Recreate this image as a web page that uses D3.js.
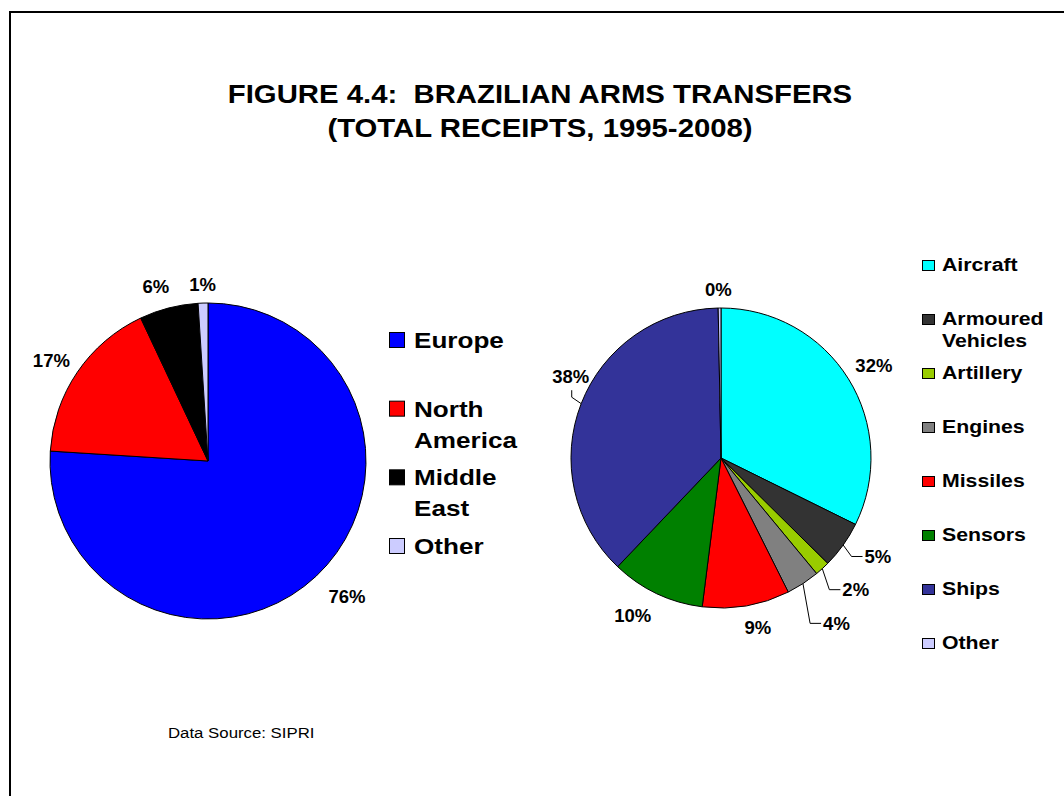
<!DOCTYPE html>
<html>
<head>
<meta charset="utf-8">
<script src="https://cdn.jsdelivr.net/npm/d3@7"></script>
<style>
  body { margin: 0; background: #fff; }
  svg { display: block; font-family: "Liberation Sans", Arial, sans-serif; }
  text { white-space: pre; }
</style>
</head>
<body>
<script>
(function (d3) {
  'use strict';

  // ---- data ----
  const titleLines = ['FIGURE 4.4:  BRAZILIAN ARMS TRANSFERS', '(TOTAL RECEIPTS, 1995-2008)'];
  const sourceText = 'Data Source: SIPRI';

  const regionNames = ['Europe', 'North America', 'Middle East', 'Other'];
  const regionLegendLines = [['Europe'], ['North', 'America'], ['Middle', 'East'], ['Other']];
  const regionValues = [76, 17, 6, 1];
  const regionColors = ['#0000ff', '#ff0000', '#000000', '#ccccff'];

  const weaponNames = ['Aircraft', 'Armoured Vehicles', 'Artillery', 'Engines', 'Missiles', 'Sensors', 'Ships', 'Other'];
  const weaponLegendLines = [['Aircraft'], ['Armoured', 'Vehicles'], ['Artillery'], ['Engines'], ['Missiles'], ['Sensors'], ['Ships'], ['Other']];
  const weaponValues = [32.3, 5.1, 1.6, 3.6, 9.4, 10.1, 37.6, 0.3];
  const weaponColors = ['#00ffff', '#333333', '#99cc00', '#808080', '#ff0000', '#008000', '#333399', '#ccccff'];

  // small moves of the percentage labels; some get a leader line
  const regionLabelNudge = {
    Europe: { dx: 12, dy: 0 },
    'North America': { dx: -2, dy: 5 },
    'Middle East': { dx: -8, dy: -2 },
    Other: { dx: 0, dy: -2 },
  };
  const weaponLabelNudge = {
    Aircraft: { dx: -1, dy: 3 },
    'Armoured Vehicles': { dx: 13, dy: -4, leader: 'left' },
    Artillery: { dx: 16, dy: 2, leader: 'left' },
    Engines: { dx: 20, dy: 19, leader: 'left' },
    Missiles: { dx: 8, dy: 1 },
    Sensors: { dx: -13, dy: -1 },
    Ships: { dx: 19, dy: -16, leader: 'bottom' },
    Other: { dx: -1, dy: 0 },
  };

  const width = 1064;
  const height = 796;

  const svg = d3.select('body')
    .append('svg')
    .attr('width', width)
    .attr('height', height);

  // frame (runs off the right and bottom edge)
  svg.append('rect')
    .attr('x', 10)
    .attr('y', 12)
    .attr('width', width + 20)
    .attr('height', height + 20)
    .attr('fill', 'none')
    .attr('stroke', '#000')
    .attr('stroke-width', 2);

  // the original text is set a bit wide, so stretch it horizontally
  const wideText = (parent, x, y, str, size, weight, anchor, stretch) =>
    parent.append('text')
      .attr('transform', `translate(${x},${y}) scale(${stretch},1)`)
      .attr('font-size', size)
      .attr('font-weight', weight)
      .attr('text-anchor', anchor)
      .attr('fill', '#000')
      .text(str);

  // title
  titleLines.forEach((line, i) => {
    wideText(svg, 540, 103 + i * 34, line, 26, 'bold', 'middle', 1.128);
  });

  wideText(svg, 168, 738, sourceText, 15, 'normal', 'start', 1.12);

  const pieChart = () => {
    let cx;
    let cy;
    let radius;
    let names;
    let values;
    let colors;
    let gap = 10;
    let nudges = {};

    const my = (selection) => {
      const total = d3.sum(values);
      const fmt = d3.format('.0%');
      const color = d3.scaleOrdinal().domain(names).range(colors);

      const arcs = d3.pie()
        .sort(null)
        .value((d) => d.value)(names.map((n, i) => ({ name: n, value: values[i] })));

      const arc = d3.arc().innerRadius(0).outerRadius(radius);

      const g = selection.append('g')
        .attr('transform', `translate(${cx},${cy})`);

      g.selectAll('path')
        .data(arcs)
        .join('path')
        .attr('d', arc)
        .attr('fill', (d) => color(d.data.name))
        .attr('stroke', '#000')
        .attr('stroke-width', 1)
        .attr('stroke-linejoin', 'round');

      arcs.forEach((d) => {
        const a = (d.startAngle + d.endAngle) / 2;
        const s = Math.sin(a);
        const c = -Math.cos(a);
        const label = g.append('text')
          .attr('font-size', 18.5)
          .attr('font-weight', 'bold')
          .attr('text-anchor', 'middle')
          .attr('fill', '#000')
          .text(fmt(d.value / total));
        const halfW = label.node().getComputedTextLength() / 2;
        const halfH = 6.5;
        const rr = radius + gap + halfW * Math.abs(s) + halfH * Math.abs(c);
        let lx = rr * s;
        let ly = rr * c;
        const nudge = nudges[d.data.name];
        if (nudge) {
          lx += nudge.dx;
          ly += nudge.dy;
          if (nudge.leader) {
            const ex = radius * s;
            const ey = radius * c;
            const pts = nudge.leader === 'left'
              ? [[ex, ey], [lx - halfW - 13, ly], [lx - halfW - 2, ly]]
              : [[ex, ey], [lx + 1, ly + 21], [lx + 1, ly + 14]];
            g.append('path')
              .attr('d', d3.line()(pts))
              .attr('fill', 'none')
              .attr('stroke', '#000')
              .attr('stroke-width', 1);
          }
        }
        label.attr('x', lx).attr('y', ly + halfH);
      });

      return selection;
    };

    my.cx = function (_) { return arguments.length ? ((cx = +_), my) : cx; };
    my.cy = function (_) { return arguments.length ? ((cy = +_), my) : cy; };
    my.radius = function (_) { return arguments.length ? ((radius = +_), my) : radius; };
    my.names = function (_) { return arguments.length ? ((names = _), my) : names; };
    my.values = function (_) { return arguments.length ? ((values = _), my) : values; };
    my.colors = function (_) { return arguments.length ? ((colors = _), my) : colors; };
    my.gap = function (_) { return arguments.length ? ((gap = +_), my) : gap; };
    my.nudges = function (_) { return arguments.length ? ((nudges = _), my) : nudges; };

    return my;
  };

  const legend = () => {
    let x;
    let top;
    let bottom;
    let lines;
    let colors;
    let boxW;
    let boxH;
    let fontSize;
    let stretch;
    let lineStep;
    let textGap;

    const my = (selection) => {
      const y = d3.scaleLinear()
        .domain([0, lines.length - 1])
        .range([top, bottom]);

      const g = selection.append('g');

      lines.forEach((ls, i) => {
        g.append('rect')
          .attr('x', x + 0.5)
          .attr('y', y(i) + 0.5)
          .attr('width', boxW)
          .attr('height', boxH)
          .attr('fill', colors[i])
          .attr('stroke', '#000')
          .attr('stroke-width', 1);
        ls.forEach((t, j) => {
          wideText(g, x + boxW + textGap, y(i) + boxH + 1 + j * lineStep, t, fontSize, 'bold', 'start', stretch);
        });
      });
    };

    my.x = function (_) { return arguments.length ? ((x = +_), my) : x; };
    my.top = function (_) { return arguments.length ? ((top = +_), my) : top; };
    my.bottom = function (_) { return arguments.length ? ((bottom = +_), my) : bottom; };
    my.lines = function (_) { return arguments.length ? ((lines = _), my) : lines; };
    my.colors = function (_) { return arguments.length ? ((colors = _), my) : colors; };
    my.boxW = function (_) { return arguments.length ? ((boxW = +_), my) : boxW; };
    my.boxH = function (_) { return arguments.length ? ((boxH = +_), my) : boxH; };
    my.fontSize = function (_) { return arguments.length ? ((fontSize = +_), my) : fontSize; };
    my.stretch = function (_) { return arguments.length ? ((stretch = +_), my) : stretch; };
    my.lineStep = function (_) { return arguments.length ? ((lineStep = +_), my) : lineStep; };
    my.textGap = function (_) { return arguments.length ? ((textGap = +_), my) : textGap; };

    return my;
  };

  // left pie: receipts by supplier region
  svg.call(
    pieChart()
      .cx(208)
      .cy(461)
      .radius(158)
      .names(regionNames)
      .values(regionValues)
      .colors(regionColors)
      .gap(10)
      .nudges(regionLabelNudge)
  );

  svg.call(
    legend()
      .x(389)
      .top(332)
      .bottom(538)
      .lines(regionLegendLines)
      .colors(regionColors)
      .boxW(15)
      .boxH(15)
      .fontSize(22.5)
      .stretch(1.16)
      .lineStep(31)
      .textGap(10)
  );

  // right pie: receipts by weapon category
  svg.call(
    pieChart()
      .cx(721)
      .cy(458)
      .radius(150)
      .names(weaponNames)
      .values(weaponValues)
      .colors(weaponColors)
      .gap(12)
      .nudges(weaponLabelNudge)
  );

  svg.call(
    legend()
      .x(922)
      .top(260)
      .bottom(638)
      .lines(weaponLegendLines)
      .colors(weaponColors)
      .boxW(12)
      .boxH(10)
      .fontSize(18.5)
      .stretch(1.15)
      .lineStep(22)
      .textGap(8)
  );

}(d3));
</script>
</body>
</html>
